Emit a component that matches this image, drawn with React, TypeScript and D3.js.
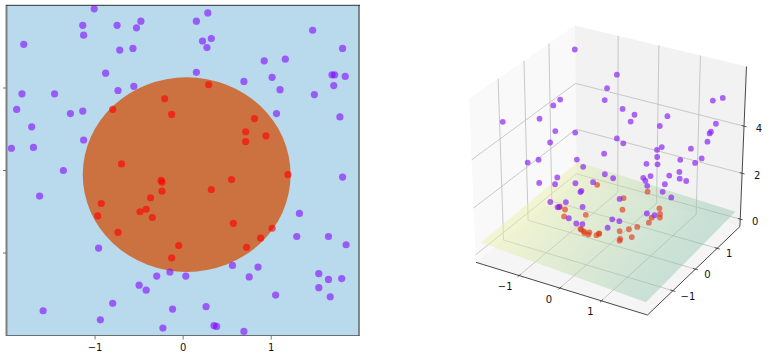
import React from "react";
import * as d3 from "d3";

// class 0, outside the circle
const outerX = [-1.01,-1.14,-0.75,-0.48,-0.53,-1.13,-1.81,-0.72,-0.57,-0.88,-0.56,-0.74,-1.83,-1.46,-1.89,-1.14,-1.28,-1.72,-1.13,-1.95,-1.70,-1.36,0.28,0.15,1.47,0.32,0.22,0.27,1.81,1.16,0.92,0.15,1.69,1.72,1.84,1.01,0.69,1.10,1.71,1.49,1.06,1.78,1.81,-1.63,-0.96,-0.15,-0.30,0.03,-0.50,-0.42,-0.80,-0.12,-1.59,-0.94,-0.23,1.32,1.29,1.65,1.85,0.56,0.85,0.75,1.54,1.65,1.80,1.54,1.67,1.05,0.26,0.35,0.38,0.69];
const outerY = [1.96,1.76,1.76,1.81,1.73,1.64,1.53,1.46,1.48,1.18,1.02,0.97,0.93,0.93,0.74,0.72,0.69,0.53,0.37,0.27,0.28,0.00,1.91,1.81,1.70,1.60,1.57,1.49,1.48,1.35,1.33,1.19,1.16,1.16,1.14,1.13,1.08,0.98,1.03,0.92,0.69,0.65,-0.08,-0.31,-0.94,-1.23,-1.28,-1.28,-1.39,-1.45,-1.61,-1.68,-1.70,-1.81,-1.91,-0.52,-0.80,-0.80,-0.90,-1.15,-1.17,-1.29,-1.25,-1.32,-1.31,-1.42,-1.53,-1.51,-1.65,-1.88,-1.89,-1.95];
const outerZ = [4.87,4.39,3.68,3.51,3.26,3.98,5.90,2.66,2.50,2.15,1.36,1.49,4.23,2.99,4.10,1.83,2.10,3.25,1.41,3.87,2.97,1.86,3.71,3.31,5.04,2.65,2.51,2.29,5.46,3.17,2.60,1.45,4.20,4.28,4.68,2.29,1.65,2.17,3.97,3.07,1.59,3.61,3.29,2.74,1.79,1.53,1.72,1.64,2.18,2.29,3.23,2.83,5.42,4.16,3.70,2.00,2.30,3.37,4.21,1.64,2.08,2.21,3.94,4.44,4.97,4.40,5.11,3.39,2.79,3.64,3.71,4.26];

// class 1, inside the circle
const innerX = [-0.21,-0.80,-0.13,-0.70,-0.25,0.29,0.81,0.71,0.94,0.71,1.19,0.55,-0.24,-0.24,-0.37,-0.93,-0.42,-0.49,-0.97,-0.35,-0.74,-0.05,-0.13,0.32,0.57,1.01,0.88,0.72];
const innerY = [0.87,0.74,0.68,0.08,-0.12,1.04,0.63,0.47,0.42,0.35,-0.05,-0.11,-0.14,-0.25,-0.33,-0.40,-0.47,-0.50,-0.55,-0.57,-0.75,-0.91,-1.06,-0.23,-0.64,-0.70,-0.82,-0.93];
const innerZ = [0.79,1.19,0.48,0.49,0.08,1.17,1.05,0.73,1.05,0.62,1.43,0.32,0.08,0.12,0.25,1.02,0.39,0.49,1.24,0.44,1.12,0.83,1.13,0.15,0.72,1.51,1.45,1.39];

const ticks2d = [-1, 0, 1];
const zTicks = [0, 2, 4];
const circle = { x: 0.04, y: -0.05, r: 1.18 };

// separating plane, corners as x, y, z
const planeX = [-2, 2, 2, -2];
const planeY = [-2, -2, 2, 2];
const planeZ = [0.49, 0.08, 0.36, 0.65];

const fmt = (t: number) => (t < 0 ? `\u2212${-t}` : `${t}`);

const x2d = d3.scaleLinear().domain([-2, 2]).range([7, 359.3]);
const y2d = d3.scaleLinear().domain([-2, 2]).range([335.5, 5.5]);

// mplot3d default view: elev 30, azim -60, dist 10
const x3d = d3.scaleLinear().domain([-2.083, 2.083]).range([-0.5, 0.5]);
const y3d = d3.scaleLinear().domain([-2.083, 2.083]).range([-0.5, 0.5]);
const z3d = d3.scaleLinear().domain([-0.33, 6.45]).range([-0.5, 0.5]);
const [xMin, xMax] = x3d.domain();
const [yMin, yMax] = y3d.domain();
const [zMin, zMax] = z3d.domain();

function project(x: number, y: number, z: number): [number, number] {
  const qx = x3d(x);
  const qy = y3d(y);
  const qz = z3d(z);
  const sx = 0.866 * qx + 0.5 * qy;
  const sy = -0.25 * qx + 0.433 * qy + 0.866 * qz;
  const d = 0.433 * qx - 0.75 * qy + 0.5 * qz;
  const w = 1 - d / 10;
  return [610 + (198 * sx) / w, 165.3 - (186.7 * sy) / w];
}

const line = d3.line();
const poly = (pts: [number, number, number][]) =>
  line(pts.map((p) => project(p[0], p[1], p[2]))) + "Z";
const seg = (a: [number, number, number], b: [number, number, number]) =>
  line([project(a[0], a[1], a[2]), project(b[0], b[1], b[2])]) || "";

const gridColor = "#bcbcbc";

const Left = () => (
  <g>
    <rect x={7} y={5.5} width={352.3} height={330} fill="#b9d9ec" />
    <ellipse
      cx={x2d(circle.x)}
      cy={y2d(circle.y)}
      rx={x2d(circle.r) - x2d(0)}
      ry={y2d(0) - y2d(circle.r)}
      fill="#cb7240"
    />
    {outerX.map((d, i) => (
      <circle key={i} cx={x2d(d)} cy={y2d(outerY[i])} r={3.6} fill="#8000ff" fillOpacity={0.58} />
    ))}
    {innerX.map((d, i) => (
      <circle key={i} cx={x2d(d)} cy={y2d(innerY[i])} r={3.6} fill="#ff0000" fillOpacity={0.62} />
    ))}
    <line x1={6.5} x2={6.5} y1={5} y2={336} stroke="#808080" strokeWidth={2} />
    <line x1={359} x2={359} y1={5} y2={336} stroke="#6a6f72" strokeWidth={1.6} />
    <line x1={6} x2={360} y1={5.3} y2={5.3} stroke="#2a2e31" strokeWidth={1} />
    <line x1={6} x2={360} y1={335.5} y2={335.5} stroke="#6a6f72" strokeWidth={1.2} />
    {ticks2d.map((t) => (
      <g key={t}>
        <line x1={3} x2={6} y1={y2d(t)} y2={y2d(t)} stroke="#555" strokeWidth={0.8} />
        <line x1={x2d(t)} x2={x2d(t)} y1={336} y2={339.5} stroke="#555" strokeWidth={0.8} />
        <text x={x2d(t)} y={350.5} textAnchor="middle" fontSize={10} fill="#111">
          {fmt(t)}
        </text>
      </g>
    ))}
  </g>
);

const Right = () => {
  const [gx1, gy1] = project(-2, 1, 0.5);
  const [gx2, gy2] = project(2, -1, 0.3);
  return (
    <g>
      <defs>
        <linearGradient id="plane" gradientUnits="userSpaceOnUse" x1={gx1} y1={gy1} x2={gx2} y2={gy2}>
          <stop offset="0" stopColor="#e8f0a7" stopOpacity={0.45} />
          <stop offset="1" stopColor="#84c0a7" stopOpacity={0.4} />
        </linearGradient>
      </defs>
      {/* panes */}
      <path d={poly([[xMin, yMin, zMin], [xMin, yMax, zMin], [xMin, yMax, zMax], [xMin, yMin, zMax]])} fill="#f9f9f9" />
      <path d={poly([[xMin, yMax, zMin], [xMax, yMax, zMin], [xMax, yMax, zMax], [xMin, yMax, zMax]])} fill="#f2f2f2" />
      <path d={poly([[xMin, yMin, zMin], [xMax, yMin, zMin], [xMax, yMax, zMin], [xMin, yMax, zMin]])} fill="#f5f5f5" />
      {/* grid */}
      {ticks2d.map((t) => (
        <g key={t} fill="none" stroke={gridColor} strokeWidth={0.8}>
          <path d={seg([t, yMin, zMin], [t, yMax, zMin])} />
          <path d={seg([t, yMax, zMin], [t, yMax, zMax])} />
          <path d={seg([xMax, t, zMin], [xMin, t, zMin])} />
          <path d={seg([xMin, t, zMin], [xMin, t, zMax])} />
        </g>
      ))}
      {zTicks.map((t) => (
        <g key={t} fill="none" stroke={gridColor} strokeWidth={0.8}>
          <path d={seg([xMin, yMin, t], [xMin, yMax, t])} />
          <path d={seg([xMin, yMax, t], [xMax, yMax, t])} />
        </g>
      ))}
      <path
        d={poly(planeX.map((d, i) => [d, planeY[i], planeZ[i]] as [number, number, number]))}
        fill="url(#plane)"
      />
      {/* axis edges */}
      <g fill="none" stroke="#333" strokeWidth={0.9}>
        <path d={seg([xMin, yMin, zMin], [xMax, yMin, zMin])} />
        <path d={seg([xMax, yMin, zMin], [xMax, yMax, zMin])} />
        <path d={seg([xMax, yMax, zMin], [xMax, yMax, zMax])} />
      </g>
      {ticks2d.map((t) => {
        const [lx, ly] = project(t, yMin, zMin);
        const [ky, kz] = project(xMax, t, zMin);
        return (
          <g key={t}>
            <path d={seg([t, yMin - 0.06, zMin], [t, yMin + 0.06, zMin])} stroke="#333" strokeWidth={0.8} />
            <path d={seg([xMax - 0.06, t, zMin], [xMax + 0.06, t, zMin])} stroke="#333" strokeWidth={0.8} />
            <text x={lx - (t < 0 ? 14 : 11)} y={ly + 14.5} textAnchor="middle" fontSize={10} fill="#111">
              {fmt(t)}
            </text>
            <text x={ky + (t < 0 ? 15 : 12)} y={kz + 9} textAnchor="middle" fontSize={10} fill="#111">
              {fmt(t)}
            </text>
          </g>
        );
      })}
      {zTicks.map((t) => {
        const [lx, ly] = project(xMax, yMax, t);
        return (
          <g key={t}>
            <path d={seg([xMax - 0.06, yMax, t], [xMax + 0.06, yMax, t])} stroke="#333" strokeWidth={0.8} />
            <text x={lx + 15} y={ly + 6} textAnchor="middle" fontSize={10} fill="#111">
              {fmt(t)}
            </text>
          </g>
        );
      })}
      {/* points sit slightly off the box projection */}
      <g transform="translate(2,-1)">
        {innerX.map((d, i) => {
          const [px, py] = project(d, innerY[i], innerZ[i]);
          return <circle key={i} cx={px} cy={py} r={2.9} fill="#e23a1c" fillOpacity={0.65} />;
        })}
        {outerX.map((d, i) => {
          const [px, py] = project(d, outerY[i], outerZ[i]);
          return <circle key={i} cx={px} cy={py} r={2.9} fill="#8a1ff5" fillOpacity={0.68} />;
        })}
      </g>
    </g>
  );
};

export default function App() {
  return (
    <svg
      width={772}
      height={353}
      style={{ position: "absolute", left: 0, top: 0, display: "block" }}
      fontFamily="'DejaVu Sans', sans-serif"
    >
      <rect width={772} height={353} fill="#fff" />
      <Left />
      <Right />
    </svg>
  );
}
